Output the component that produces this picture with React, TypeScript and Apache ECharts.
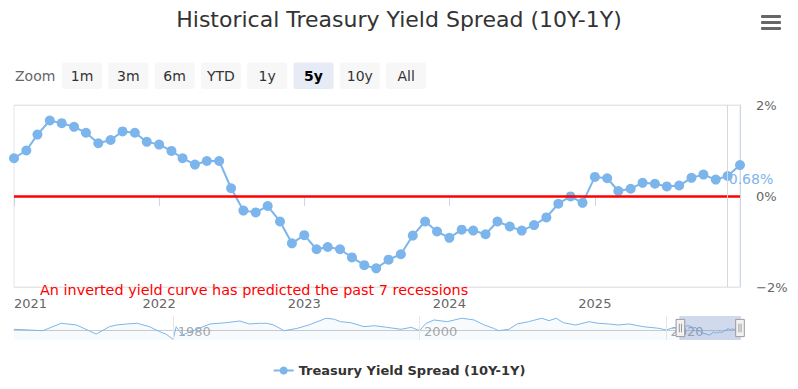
import React, { useEffect, useRef } from 'react';
import * as echarts from 'echarts';

const TITLE = 'Historical Treasury Yield Spread (10Y-1Y)';
const SERIES_NAME = 'Treasury Yield Spread (10Y-1Y)';
const NOTE = 'An inverted yield curve has predicted the past 7 recessions';
const ZOOM_LABEL = 'Zoom';
const RANGE_BUTTONS = ['1m', '3m', '6m', 'YTD', '1y', '5y', '10y', 'All'];
const SELECTED_BUTTON = '5y';

// Long history (navigator), approximate readings
const historyDates = [
  '1967-02-01', '1969-06-01', '1970-12-01', '1972-03-01', '1973-10-01', '1974-11-01', '1975-06-01',
  '1976-04-01', '1977-02-01', '1978-02-01', '1978-12-01', '1979-06-01', '1980-01-01', '1980-04-01',
  '1980-10-01', '1983-01-01', '1984-05-01', '1985-06-01', '1986-03-01', '1987-01-01', '1987-08-01',
  '1988-03-01', '1989-01-01', '1990-02-01', '1991-01-01', '1991-12-01', '1992-06-01', '1993-02-01',
  '1993-08-01', '1994-06-01', '1995-07-01', '1996-05-01', '1997-05-01', '1998-07-01', '1999-05-01',
  '2000-01-01', '2000-07-01', '2001-03-01', '2002-04-01', '2003-06-01', '2004-06-01', '2005-04-01',
  '2006-01-01', '2006-06-01', '2007-04-01', '2007-12-01', '2008-11-01', '2009-12-01', '2010-07-01',
  '2011-02-01', '2011-09-01', '2012-09-01', '2013-10-01', '2014-07-01', '2015-05-01', '2016-03-01',
  '2017-01-01', '2018-03-01', '2019-06-01', '2020-01-01', '2020-06-01',
];
const historyValues = [
  0.22, -0.22, 2.09, 1.56, -1.25, 1.03, 1.56,
  1.88, 2.09, 1.03, -0.53, -1.25, -2.91, 1.03,
  -1.56, 1.88, 2.28, 2.81, 1.88, 2.09, 2.09,
  1.56, -0.22, 0.53, 1.56, 2.91, 3.66, 3.34,
  2.59, 2.28, 1.03, 1.34, 0.84, 0.22, 0.84,
  -0.22, 2.0, 3.13, 2.59, 3.66, 3.13, 1.56,
  0.53, -0.22, 0.22, 1.88, 2.59, 3.66, 2.91,
  3.66, 2.28, 1.56, 2.59, 2.09, 1.88, 1.56,
  1.88, 1.03, 0.53, 0.0, 0.5,
];

// Monthly values, Jan 2021 .. Jan 2026
const RECENT_START_YEAR = 2021;
const values2021 = [0.83, 1.0, 1.35, 1.66, 1.6, 1.52, 1.39, 1.16, 1.23, 1.42, 1.39, 1.19];
const values2022 = [1.13, 0.99, 0.83, 0.69, 0.77, 0.77, 0.17, -0.32, -0.36, -0.22, -0.56, -1.04];
const values2023 = [-0.86, -1.17, -1.12, -1.17, -1.35, -1.52, -1.59, -1.4, -1.28, -0.87, -0.56, -0.78];
const values2024 = [-0.92, -0.74, -0.76, -0.84, -0.56, -0.67, -0.76, -0.64, -0.47, -0.17, -0.01, -0.15];
const values2025 = [0.42, 0.39, 0.11, 0.16, 0.29, 0.27, 0.21, 0.23, 0.4, 0.47, 0.36, 0.44];
const values2026 = [0.68];

const AXIS_YEARS = [2021, 2022, 2023, 2024, 2025];
const NAVIGATOR_YEARS = [1980, 2000, 2020];
const WINDOW_START = '2021-01-01';
const WINDOW_END = '2026-01-01';
const CROSSHAIR_DATE = '2025-12-01';

const FONT = 'DejaVu Sans';
const BLUE = '#7cb5ec';
const YEAR_MS = 365 * 24 * 3600 * 1000;

const ts = (s: string) => +echarts.time.parse(s);

export default function App() {
  const ref = useRef<HTMLDivElement>(null);

  useEffect(() => {
    if (!ref.current) return;
    const chart = echarts.init(ref.current, null, { renderer: 'svg' });

    const recentValues = [...values2021, ...values2022, ...values2023, ...values2024, ...values2025, ...values2026];
    const recentDates = recentValues.map((_, i) => {
      const y = RECENT_START_YEAR + Math.floor(i / 12);
      const m = (i % 12) + 1;
      return `${y}-${String(m).padStart(2, '0')}-01`;
    });
    const allData: [number, number][] = [
      ...historyDates.map((d, i) => [ts(d), historyValues[i]] as [number, number]),
      ...recentDates.map((d, i) => [ts(d), recentValues[i]] as [number, number]),
    ];
    const lastIdx = allData.length - 1;
    const mainData = allData.map((p, i) =>
      i === lastIdx
        ? {
            value: p,
            label: {
              show: true,
              formatter: (pp: any) => pp.value[1].toFixed(2) + '%',
              position: 'bottom',
              distance: 2,
              offset: [11, 0],
              color: BLUE,
              fontSize: 14,
              fontFamily: FONT,
            },
          }
        : p
    );
    const allVals = allData.map((p) => p[1]);
    const navMin = Math.min(...allVals) - 0.2;
    const navMax = Math.max(...allVals) + 0.7;
    const firstAxisYear = AXIS_YEARS[0];

    const buttonGraphics = RANGE_BUTTONS.map((label, i) => {
      const sel = label === SELECTED_BUTTON;
      return {
        type: 'group',
        x: 62 + i * 46.3,
        y: 62.5,
        children: [
          { type: 'rect', shape: { x: 0, y: 0, width: 40, height: 26.5, r: 2 }, style: { fill: sel ? '#e6ebf5' : '#f7f7f7' } },
          {
            type: 'text',
            x: 20,
            y: 13.5,
            style: {
              text: label,
              fill: sel ? '#000000' : '#333333',
              fontSize: 14,
              fontWeight: sel ? 'bold' : 'normal',
              fontFamily: FONT,
              align: 'center',
              verticalAlign: 'middle',
            },
          },
        ],
      };
    });

    const option: any = {
      animation: false,
      textStyle: { fontFamily: FONT },
      title: {
        text: TITLE,
        left: 'center',
        top: 3,
        textStyle: { fontSize: 22, fontWeight: 'normal', color: '#333333', fontFamily: FONT },
      },
      legend: {
        data: [SERIES_NAME],
        left: 'center',
        top: 359,
        itemWidth: 20,
        itemHeight: 10,
        textStyle: { fontSize: 13, fontWeight: 'bold', color: '#333333', fontFamily: FONT },
      },
      grid: [
        { left: 14, right: 58, top: 105, height: 182, show: true, borderColor: '#e6e6e6', borderWidth: 1, backgroundColor: 'transparent' },
        { left: 14, right: 58, top: 316, height: 24 },
      ],
      xAxis: [
        {
          type: 'time',
          gridIndex: 0,
          minInterval: YEAR_MS,
          maxInterval: YEAR_MS,
          axisLine: { show: true, lineStyle: { color: '#ccd6eb' } },
          axisTick: { show: true, length: 10, lineStyle: { color: '#ccd6eb' } },
          axisLabel: {
            color: '#666666',
            fontSize: 13,
            margin: 10,
            hideOverlap: false,
            formatter: (v: number) => {
              const d = new Date(v);
              const y = d.getFullYear();
              if (d.getMonth() !== 0 || !AXIS_YEARS.includes(y)) return '';
              return y === firstAxisYear ? `{first|${y}}` : String(y);
            },
            rich: {
              first: { width: 66, align: 'right', color: '#666666', fontSize: 13, fontFamily: FONT },
            },
          },
          splitLine: { show: false },
        },
        {
          type: 'time',
          gridIndex: 1,
          position: 'top',
          min: allData[0][0],
          max: allData[lastIdx][0],
          axisLine: { show: true, lineStyle: { color: '#cccccc' } },
          axisTick: { show: false },
          axisLabel: { show: false },
          splitLine: { show: false },
        },
      ],
      yAxis: [
        {
          type: 'value',
          gridIndex: 0,
          position: 'right',
          min: -2,
          max: 2,
          interval: 2,
          axisLine: { show: true, lineStyle: { color: '#ccd6eb' } },
          axisTick: { show: false },
          axisLabel: {
            color: '#666666',
            fontSize: 13,
            margin: 16,
            formatter: (v: number) => (v < 0 ? '\u2212' + Math.abs(v) : String(v)) + '%',
          },
          splitLine: { show: true, lineStyle: { color: '#e6e6e6' } },
        },
        { type: 'value', gridIndex: 1, show: false, min: navMin, max: navMax },
      ],
      dataZoom: [
        {
          type: 'slider',
          xAxisIndex: 0,
          filterMode: 'filter',
          startValue: ts(WINDOW_START),
          endValue: ts(WINDOW_END),
          left: 14,
          right: 58,
          top: 316,
          height: 24,
          showDataShadow: false,
          showDetail: false,
          brushSelect: false,
          moveHandleSize: 0,
          backgroundColor: 'rgba(0,0,0,0)',
          borderColor: 'rgba(0,0,0,0)',
          fillerColor: 'rgba(102,133,194,0.3)',
          handleIcon: 'path://M0,0h8v16h-8z M3,4v8 M5,4v8',
          handleSize: '72%',
          handleStyle: { color: '#f2f2f2', borderColor: '#999999', borderWidth: 1 },
          emphasis: { handleStyle: { color: '#f2f2f2', borderColor: '#999999', borderWidth: 1 } },
        },
      ],
      series: [
        {
          name: SERIES_NAME,
          type: 'line',
          xAxisIndex: 0,
          yAxisIndex: 0,
          data: mainData,
          symbol: 'circle',
          symbolSize: 10,
          showSymbol: true,
          lineStyle: { color: BLUE, width: 2 },
          itemStyle: { color: BLUE },
          z: 3,
          markLine: {
            silent: true,
            symbol: ['none', 'none'],
            label: { show: false },
            data: [
              { yAxis: 0, lineStyle: { color: '#ff0000', width: 2.5, type: 'solid' } },
              { xAxis: ts(CROSSHAIR_DATE), lineStyle: { color: '#d8d8d8', width: 1, type: 'solid' } },
            ],
          },
        },
        {
          name: 'navigator',
          type: 'line',
          xAxisIndex: 1,
          yAxisIndex: 1,
          data: allData,
          showSymbol: false,
          silent: true,
          lineStyle: { color: BLUE, width: 1 },
          areaStyle: { color: 'rgba(124,181,236,0.08)', origin: 'start' },
          markLine: {
            silent: true,
            symbol: ['none', 'none'],
            label: { show: false },
            lineStyle: { color: '#e6e6e6', width: 1, type: 'solid' },
            data: NAVIGATOR_YEARS.map((y) => ({ xAxis: ts(`${y}-01-01`) })),
          },
        },
        {
          name: 'navigator-labels',
          type: 'scatter',
          xAxisIndex: 1,
          yAxisIndex: 1,
          silent: true,
          symbolSize: 1,
          itemStyle: { color: 'rgba(0,0,0,0)' },
          data: NAVIGATOR_YEARS.map((y) => [ts(`${y}-01-01`), navMin]),
          label: {
            show: true,
            position: 'right',
            distance: 4,
            offset: [0, -9],
            color: '#909090',
            fontSize: 13,
            fontFamily: FONT,
            formatter: (p: any) => String(new Date(p.value[0]).getFullYear()),
          },
        },
      ],
      graphic: [
        {
          type: 'text',
          x: 15,
          y: 75.5,
          style: { text: ZOOM_LABEL, fill: '#666666', fontSize: 14, fontFamily: FONT, verticalAlign: 'middle' },
        },
        ...buttonGraphics,
        { type: 'rect', shape: { x: 761, y: 15, width: 20, height: 3, r: 1 }, style: { fill: '#666666' } },
        { type: 'rect', shape: { x: 761, y: 21, width: 20, height: 3, r: 1 }, style: { fill: '#666666' } },
        { type: 'rect', shape: { x: 761, y: 27, width: 20, height: 3, r: 1 }, style: { fill: '#666666' } },
        {
          type: 'text',
          x: 40,
          y: 289.5,
          z: 10,
          style: { text: NOTE, fill: '#ff0000', fontSize: 14.4, fontFamily: FONT, verticalAlign: 'middle' },
        },
      ],
    };

    chart.setOption(option);
    return () => chart.dispose();
  }, []);

  return <div ref={ref} style={{ position: 'absolute', left: 0, top: 0, width: 798, height: 389 }} />;
}
